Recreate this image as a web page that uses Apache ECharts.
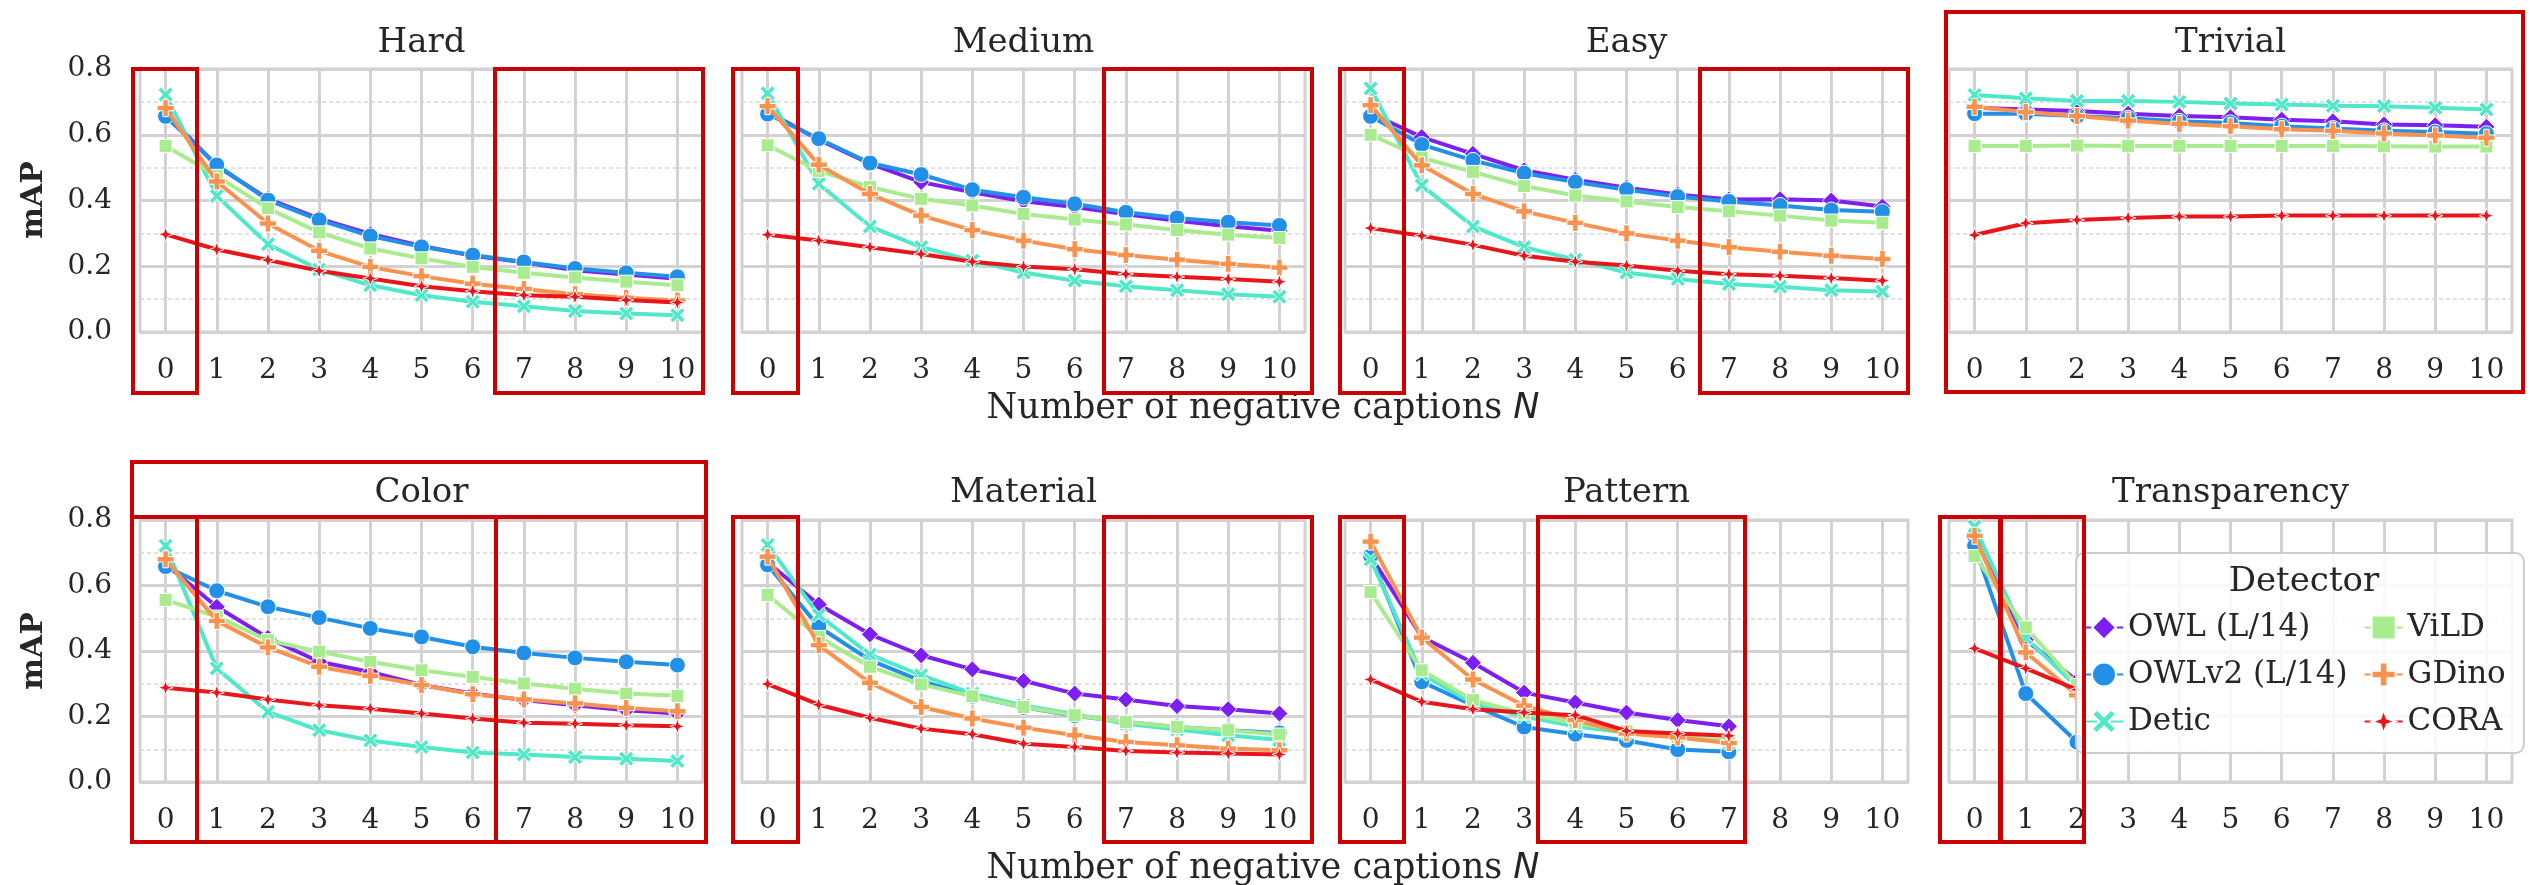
<!DOCTYPE html>
<html>
<head>
<meta charset="utf-8">
<script src="https://cdn.jsdelivr.net/npm/echarts@6/dist/echarts.min.js"></script>
<style>
html,body{margin:0;padding:0;background:#fff;}
#chart{width:2534px;height:885px;}
</style>
</head>
<body>
<div id="chart"></div>
<script>
// ---------- data ----------
const categories = ['0','1','2','3','4','5','6','7','8','9','10'];
const detectors = ['OWL (L/14)', 'OWLv2 (L/14)', 'Detic', 'ViLD', 'GDino', 'CORA'];
const panelTitles = ['Hard','Medium','Easy','Trivial','Color','Material','Pattern','Transparency'];
const yTicks = [0, 0.2, 0.4, 0.6, 0.8];

// each panel: rows in detector order
const hard = [
  [0.665, 0.505, 0.405, 0.345, 0.298, 0.262, 0.232, 0.212, 0.188, 0.175, 0.162],
  [0.656, 0.508, 0.401, 0.341, 0.292, 0.259, 0.234, 0.213, 0.193, 0.180, 0.168],
  [0.722, 0.414, 0.267, 0.190, 0.142, 0.112, 0.092, 0.078, 0.064, 0.056, 0.051],
  [0.566, 0.475, 0.376, 0.303, 0.254, 0.224, 0.198, 0.180, 0.166, 0.153, 0.142],
  [0.681, 0.458, 0.330, 0.247, 0.198, 0.170, 0.147, 0.131, 0.115, 0.104, 0.096],
  [0.297, 0.251, 0.219, 0.186, 0.163, 0.139, 0.124, 0.112, 0.107, 0.097, 0.090]
];
const medium = [
  [0.670, 0.585, 0.512, 0.456, 0.425, 0.398, 0.380, 0.358, 0.338, 0.322, 0.308],
  [0.663, 0.588, 0.514, 0.479, 0.433, 0.410, 0.390, 0.364, 0.347, 0.334, 0.324],
  [0.726, 0.451, 0.321, 0.258, 0.217, 0.181, 0.156, 0.139, 0.127, 0.115, 0.107],
  [0.568, 0.490, 0.441, 0.405, 0.385, 0.359, 0.342, 0.327, 0.310, 0.296, 0.286],
  [0.687, 0.509, 0.420, 0.354, 0.310, 0.278, 0.252, 0.234, 0.220, 0.207, 0.196],
  [0.296, 0.278, 0.258, 0.237, 0.214, 0.199, 0.191, 0.176, 0.168, 0.161, 0.153]
];
const easy = [
  [0.665, 0.593, 0.542, 0.492, 0.463, 0.439, 0.418, 0.403, 0.404, 0.400, 0.382],
  [0.656, 0.570, 0.522, 0.483, 0.456, 0.433, 0.412, 0.397, 0.385, 0.371, 0.366],
  [0.741, 0.446, 0.321, 0.258, 0.220, 0.181, 0.161, 0.146, 0.138, 0.127, 0.123],
  [0.600, 0.530, 0.487, 0.444, 0.415, 0.397, 0.380, 0.367, 0.354, 0.339, 0.332],
  [0.690, 0.507, 0.420, 0.367, 0.332, 0.300, 0.278, 0.258, 0.244, 0.232, 0.222],
  [0.316, 0.293, 0.265, 0.232, 0.214, 0.202, 0.186, 0.176, 0.171, 0.164, 0.156]
];
const trivial = [
  [0.682, 0.677, 0.672, 0.664, 0.657, 0.653, 0.646, 0.641, 0.631, 0.629, 0.624],
  [0.664, 0.664, 0.657, 0.650, 0.641, 0.636, 0.626, 0.619, 0.612, 0.608, 0.603],
  [0.721, 0.711, 0.703, 0.703, 0.700, 0.695, 0.692, 0.688, 0.687, 0.682, 0.677],
  [0.566, 0.566, 0.567, 0.566, 0.566, 0.566, 0.566, 0.566, 0.565, 0.564, 0.564],
  [0.685, 0.669, 0.657, 0.643, 0.633, 0.626, 0.617, 0.612, 0.604, 0.598, 0.591],
  [0.295, 0.331, 0.341, 0.347, 0.351, 0.351, 0.354, 0.354, 0.354, 0.354, 0.354]
];
const color = [
  [0.665, 0.535, 0.440, 0.367, 0.336, 0.296, 0.270, 0.250, 0.234, 0.219, 0.209],
  [0.658, 0.584, 0.535, 0.502, 0.469, 0.443, 0.413, 0.394, 0.379, 0.367, 0.357],
  [0.721, 0.347, 0.214, 0.158, 0.127, 0.107, 0.090, 0.084, 0.076, 0.071, 0.064],
  [0.556, 0.505, 0.433, 0.398, 0.367, 0.341, 0.321, 0.301, 0.285, 0.270, 0.263],
  [0.680, 0.492, 0.411, 0.352, 0.324, 0.296, 0.268, 0.252, 0.240, 0.226, 0.216],
  [0.288, 0.273, 0.252, 0.234, 0.224, 0.209, 0.194, 0.181, 0.178, 0.173, 0.170]
];
const material = [
  [0.670, 0.542, 0.451, 0.387, 0.344, 0.309, 0.270, 0.252, 0.232, 0.222, 0.209],
  [0.663, 0.474, 0.372, 0.309, 0.262, 0.228, 0.202, 0.183, 0.168, 0.158, 0.150],
  [0.724, 0.510, 0.389, 0.326, 0.270, 0.234, 0.207, 0.178, 0.160, 0.143, 0.128],
  [0.571, 0.443, 0.352, 0.298, 0.262, 0.229, 0.204, 0.183, 0.168, 0.158, 0.145],
  [0.688, 0.418, 0.303, 0.229, 0.194, 0.166, 0.143, 0.122, 0.112, 0.102, 0.097],
  [0.299, 0.236, 0.196, 0.163, 0.146, 0.117, 0.107, 0.095, 0.090, 0.087, 0.084]
];
const pattern = [
  [0.690, 0.443, 0.364, 0.273, 0.243, 0.212, 0.189, 0.170],
  [0.690, 0.306, 0.234, 0.168, 0.146, 0.127, 0.099, 0.092],
  [0.680, 0.330, 0.240, 0.200, 0.170, 0.150, 0.140, 0.120],
  [0.580, 0.341, 0.250, 0.209, 0.180, 0.156, 0.138, 0.127],
  [0.734, 0.441, 0.313, 0.233, 0.189, 0.148, 0.136, 0.119],
  [0.313, 0.245, 0.222, 0.212, 0.204, 0.156, 0.148, 0.141]
];
const transparency = [
  [0.744, 0.434, 0.309],
  [0.721, 0.270, 0.122],
  [0.780, 0.440, 0.291],
  [0.690, 0.472, 0.296],
  [0.752, 0.396, 0.265],
  [0.408, 0.347, 0.282]
];
const panels = [hard, medium, easy, trivial, color, material, pattern, transparency];

// ---------- style ----------
const FONT = 'DejaVu Serif';
const TXT = '#262626';
const colors = ['#7d1ff0', '#2390e8', '#4fe8c8', '#a9ec8f', '#f8924f', '#e8161a'];
const xPath = 'path://M2,0 L5,3 L8,0 L10,2 L7,5 L10,8 L8,10 L5,7 L2,10 L0,8 L3,5 L0,2 Z';
const plusPath = 'path://M3.4,0 H6.6 V3.4 H10 V6.6 H6.6 V10 H3.4 V6.6 H0 V3.4 H3.4 Z';
const starPath = 'path://M5,0 L6.3,3.7 L10,5 L6.3,6.3 L5,10 L3.7,6.3 L0,5 L3.7,3.7 Z';
const symbols = ['diamond', 'circle', xPath, 'rect', plusPath, starPath];
const symbolSizes = [17, 16, 15, 13, 17, 15];

const colLeft = [140, 742, 1345, 1949];
const gridW = 563;
const rowTop = [69, 520];
const gridH = [263, 262];
const GRID_COLOR = '#d2d2d2';

const grids = [], xAxes = [], yAxes = [], series = [];
for (let p = 0; p < 8; p++) {
  const r = Math.floor(p / 4), c = p % 4;
  grids.push({
    left: colLeft[c], top: rowTop[r], width: gridW, height: gridH[r],
    show: true, borderColor: GRID_COLOR, borderWidth: 3, containLabel: false
  });
  xAxes.push({
    type: 'category', gridIndex: p, data: categories, boundaryGap: true,
    axisLine: {show: false}, axisTick: {show: false},
    axisLabel: {show: true, interval: 0, margin: 25, fontFamily: FONT, fontSize: 28, color: TXT},
    splitLine: {show: true, interval: 0, alignWithLabel: true, lineStyle: {color: GRID_COLOR, width: 3}}
  });
  yAxes.push({
    type: 'value', gridIndex: p, min: 0, max: 0.8, interval: 0.2,
    axisLine: {show: false}, axisTick: {show: false},
    axisLabel: {show: c === 0, margin: 28, fontFamily: FONT, fontSize: 28, color: TXT,
      formatter: v => v.toFixed(1)},
    splitLine: {show: true, lineStyle: {color: GRID_COLOR, width: 3}},
    minorTick: {show: false, splitNumber: 2},
    minorSplitLine: {show: true, lineStyle: {color: '#d8d8d8', width: 1.5, type: [4, 3]}}
  });
  panels[p].forEach((vals, d) => {
    series.push({
      type: 'line', name: detectors[d], xAxisIndex: p, yAxisIndex: p, data: vals,
      symbol: symbols[d], symbolSize: symbolSizes[d], showAllSymbol: true,
      lineStyle: {width: 4, color: colors[d]},
      itemStyle: {color: colors[d], borderColor: '#ffffff', borderWidth: 1},
      emphasis: {disabled: true}, z: 3 + d, animation: false
    });
  });
}

// ---------- annotation graphics ----------
const graphics = [];
for (let p = 0; p < 8; p++) {
  const r = Math.floor(p / 4), c = p % 4;
  graphics.push({type: 'text', x: colLeft[c] + gridW / 2, y: r === 0 ? 43 : 493, z: 50,
    style: {text: panelTitles[p], fontFamily: FONT, fontSize: 34, fill: TXT, align: 'center', verticalAlign: 'middle'}});
}
[200, 651].forEach(yc => graphics.push({type: 'text', x: 34, y: yc, rotation: Math.PI / 2, z: 50,
  style: {text: 'mAP', fontFamily: FONT, fontSize: 30, fontWeight: 'bold', fill: TXT, align: 'center', verticalAlign: 'middle'}}));
[409, 869].forEach(yc => graphics.push({type: 'text', x: 1263, y: yc, z: 50,
  style: {text: '{a|Number of negative captions }{n|N}', align: 'center', verticalAlign: 'middle',
    rich: {a: {fontFamily: FONT, fontSize: 35, fill: TXT}, n: {fontFamily: 'DejaVu Sans', fontStyle: 'italic', fontSize: 35, fill: TXT}}}}));
graphics.push({type: 'text', x: 2304, y: 582, z: 60,
  style: {text: 'Detector', fontFamily: FONT, fontSize: 34, fill: TXT, align: 'center', verticalAlign: 'middle'}});

const redBoxes = [
  [133,69,197,393],[495,69,703,393],
  [733,69,798,393],[1104,69,1312,393],
  [1340,69,1404,393],[1700,69,1908,393],
  [1946,12,2523,392],
  [132,462,706,842],[132,517,197,842],[496,517,706,842],
  [733,517,798,842],[1104,517,1312,842],
  [1340,517,1404,842],[1538,517,1745,842],
  [1940,517,2000,842],[2001,517,2084,842]
];
redBoxes.forEach(b => graphics.push({type: 'rect', z: 100,
  shape: {x: b[0], y: b[1], width: b[2] - b[0], height: b[3] - b[1]},
  style: {fill: null, stroke: '#cc0000', lineWidth: 4}}));
graphics.push({type: 'line', z: 100, shape: {x1: 132, y1: 517, x2: 706, y2: 517},
  style: {stroke: '#cc0000', lineWidth: 4}});

const chart = echarts.init(document.getElementById('chart'), null, {renderer: 'canvas'});
chart.setOption({
  animation: false,
  backgroundColor: '#ffffff',
  grid: grids, xAxis: xAxes, yAxis: yAxes, series: series,
  legend: {
    data: detectors, orient: 'vertical', left: 2076, top: 553, height: 125,
    itemWidth: 38, itemHeight: 30, itemGap: 16,
    padding: [59, 18, 16, 8],
    backgroundColor: 'rgba(255,255,255,0.85)', borderColor: '#cccccc', borderWidth: 2, borderRadius: 8,
    textStyle: {fontFamily: FONT, fontSize: 31, color: TXT, lineHeight: 30},
    selectedMode: false, z: 20
  },
  graphic: graphics
});
</script>
</body>
</html>
